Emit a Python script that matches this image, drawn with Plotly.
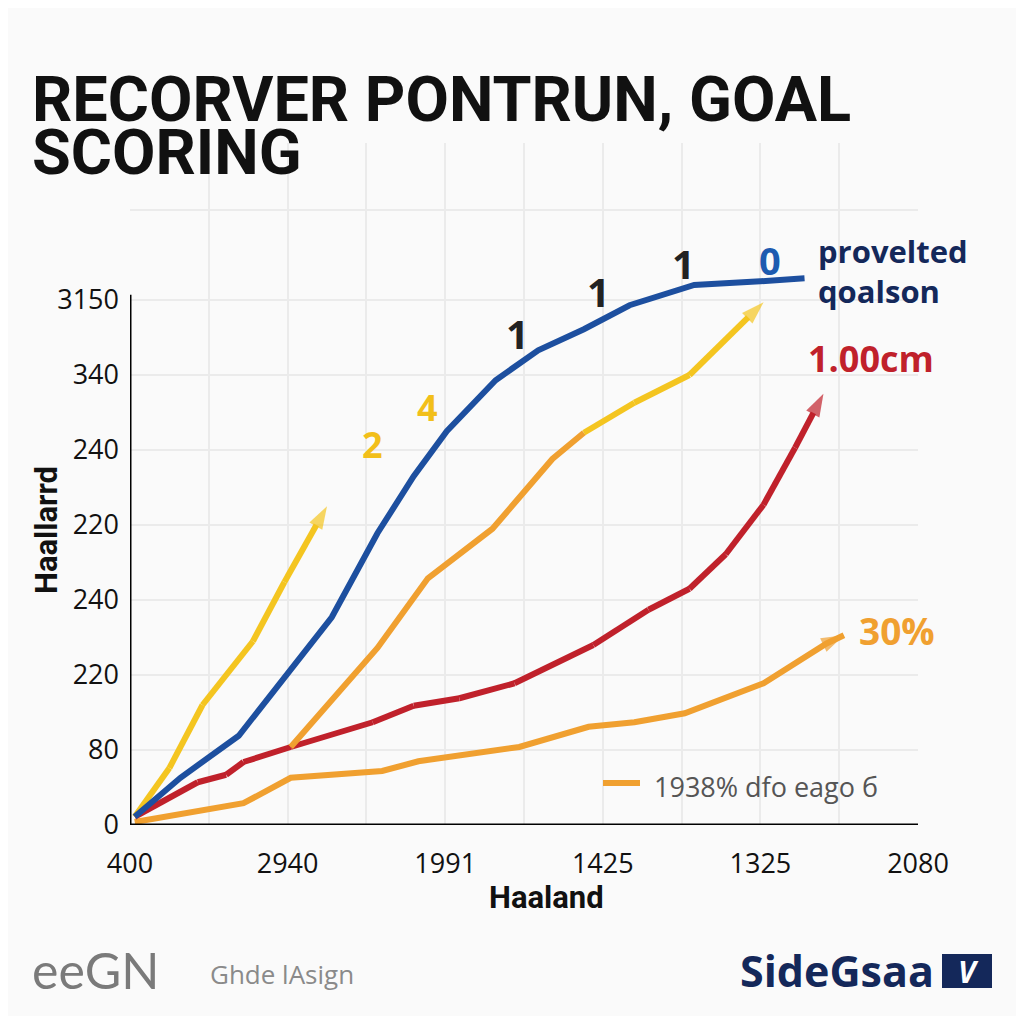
import plotly.graph_objects as go

# --- data (in axis units) ---
x_ticks = [0, 1, 2, 3, 4, 5]
x_labels = ["400", "2940", "1991", "1425", "1325", "2080"]
y_ticks = [0, 1, 2, 3, 4, 5, 6, 7]
y_labels = ["0", "80", "220", "240", "220", "240", "340", "3150"]

blue_x = [0.03, 0.32, 0.69, 1.02, 1.28, 1.57, 1.80, 2.01, 2.32, 2.59, 2.88, 3.17, 3.58, 4.00, 4.28]
blue_y = [0.11, 0.63, 1.19, 2.08, 2.77, 3.89, 4.65, 5.25, 5.93, 6.33, 6.61, 6.93, 7.20, 7.25, 7.29]

yellow_short_x = [0.03, 0.25, 0.46, 0.78, 0.98, 1.25]
yellow_short_y = [0.11, 0.76, 1.60, 2.45, 3.24, 4.25]

orange_up_x = [1.02, 1.57, 1.89, 2.30, 2.68, 2.88]
orange_up_y = [1.04, 2.36, 3.29, 3.95, 4.88, 5.23]

yellow_up_x = [2.88, 3.20, 3.55, 4.02]
yellow_up_y = [5.23, 5.63, 6.00, 6.97]

red_x = [0.03, 0.43, 0.61, 0.72, 1.02, 1.54, 1.80, 2.09, 2.44, 2.94, 3.29, 3.55, 3.78, 4.02, 4.22, 4.40]
red_y = [0.11, 0.57, 0.67, 0.84, 1.04, 1.37, 1.59, 1.69, 1.89, 2.40, 2.87, 3.15, 3.61, 4.27, 5.03, 5.75]

orange_low_x = [0.03, 0.72, 1.02, 1.60, 1.83, 2.47, 2.91, 3.20, 3.52, 4.02, 4.42, 4.53]
orange_low_y = [0.04, 0.29, 0.63, 0.72, 0.85, 1.04, 1.31, 1.37, 1.49, 1.89, 2.42, 2.53]

point_labels = ["1", "1", "1", "0", "2", "4"]
point_label_x = [2.46, 2.97, 3.51, 4.06, 1.54, 1.89]
point_label_y = [6.56, 7.11, 7.49, 7.53, 5.07, 5.57]

BLUE = "#1d4f9f"
YELLOW = "#f4c520"
ORANGE = "#f0a030"
RED = "#c0212b"
NAVY = "#14285a"
BG = "#fafafa"

# layout measured in reference pixels; the page body adds 8px
OFF = 8
W, H = 1024, 1024
L, T = 130, 143
PW, PH = 788, 682


def px_x(p):
    return (p - L) / PW


def px_y(p):
    return 1 - (p - T) / PH


def line_trace(xs, ys, color, arrow=False):
    n = len(xs)
    marker = None
    mode = "lines"
    if arrow:
        mode = "lines+markers"
        marker = dict(
            symbol=["circle"] * (n - 1) + ["arrow"],
            size=[0] * (n - 1) + [24],
            angleref="previous",
            color=color,
            line=dict(width=0),
        )
    return go.Scatter(x=xs, y=ys, mode=mode, line=dict(color=color, width=6),
                      marker=marker, showlegend=False, hoverinfo="skip",
                      cliponaxis=False)


def text_at(fig, x, y, text, size, color, family="Open Sans", xa="center", ya="middle", **kw):
    fig.add_annotation(x=px_x(x), y=px_y(y), xref="paper", yref="paper", text=text,
                       showarrow=False, xanchor=xa, yanchor=ya,
                       font=dict(family=family, size=size, color=color), **kw)


fig = go.Figure()
fig.add_trace(line_trace(orange_low_x, orange_low_y, ORANGE, arrow=True))
fig.add_trace(line_trace(red_x, red_y, RED, arrow=True))
fig.add_trace(line_trace(orange_up_x, orange_up_y, ORANGE))
fig.add_trace(line_trace(yellow_up_x, yellow_up_y, YELLOW, arrow=True))
fig.add_trace(line_trace(yellow_short_x, yellow_short_y, YELLOW, arrow=True))
fig.add_trace(line_trace(blue_x, blue_y, BLUE))

# numbers along the lines
label_colors = ["#222222", "#222222", "#222222", "#1d5bb0", "#f2bf1a", "#f2bf1a"]
label_sizes = [40, 40, 40, 38, 36, 36]
for t, x, y, c, s in zip(point_labels, point_label_x, point_label_y, label_colors, label_sizes):
    fig.add_annotation(x=x, y=y, text=f"<b>{t}</b>", showarrow=False,
                       xanchor="center", yanchor="middle",
                       font=dict(family="Open Sans", size=s, color=c))

# end labels
text_at(fig, 816, 271, "<b>provelted<br>qoalson</b>", 31, NAVY, xa="left", align="left")
text_at(fig, 806, 358, "<b>1.00cm</b>", 36, RED, xa="left")
text_at(fig, 857, 630, "<b>30%</b>", 37, ORANGE, xa="left")

# legend-like key
fig.add_shape(type="line", xref="paper", yref="paper",
              x0=px_x(603), x1=px_x(640), y0=px_y(783), y1=px_y(783),
              line=dict(color=ORANGE, width=6))
text_at(fig, 652, 786, "1938% dfo eago б", 27, "#555555", xa="left")

# axis lines
fig.add_shape(type="line", x0=0, x1=0, y0=0, y1=7.07, line=dict(color="black", width=3))
fig.add_shape(type="line", x0=0, x1=5, y0=0, y1=0, line=dict(color="black", width=3))

# title (two tight lines)
text_at(fig, 30, 99, "<b>RECORVER PONTRUN, GOAL</b>", 63, "#111111", family="Roboto", xa="left")
text_at(fig, 30, 152, "<b>SCORING</b>", 63, "#111111", family="Roboto", xa="left")

# axis titles
text_at(fig, 546, 898, "<b>Haaland</b>", 31, "#111111", family="Roboto")
text_at(fig, 46, 530, "<b>Haallarrd</b>", 31, "#111111", family="Roboto", textangle=-90)

# footer
text_at(fig, 30, 970, "eeGN", 50, "#7a7a7a", family="Lato", xa="left")
text_at(fig, 208, 974, "Ghde lAsign", 26, "#8a8a8a", xa="left")
text_at(fig, 936, 970, "<b>SideGsaa</b>", 43, NAVY, xa="right")
fig.add_shape(type="rect", xref="paper", yref="paper",
              x0=px_x(942), x1=px_x(992), y0=px_y(988), y1=px_y(954),
              fillcolor=NAVY, line=dict(width=0))
text_at(fig, 968, 971, "<b><i>V</i></b>", 30, "white")

grid_x = [i * 0.5 for i in range(11)]
fig.update_layout(
    width=W - 2 * OFF, height=H - 2 * OFF,
    margin=dict(l=L - OFF, r=W - OFF - L - PW, t=T - OFF, b=H - OFF - T - PH),
    paper_bgcolor=BG, plot_bgcolor=BG,
    xaxis=dict(range=[0, 5], tickvals=grid_x,
               ticktext=[x_labels[int(v)] if v == int(v) else "" for v in grid_x],
               showgrid=True, gridcolor="#ebebeb", gridwidth=2, zeroline=False,
               showline=False, ticks="", ticklabelstandoff=20,
               tickfont=dict(family="Open Sans", size=27, color="#111111")),
    yaxis=dict(range=[0, PH / 75], tickvals=y_ticks + [8.2, PH / 75],
               ticktext=y_labels + ["", ""],
               showgrid=True, gridcolor="#ebebeb", gridwidth=2, zeroline=False,
               showline=False, ticks="", ticklabelstandoff=10,
               tickfont=dict(family="Open Sans", size=27, color="#111111")),
)

fig.write_html("out.html")
